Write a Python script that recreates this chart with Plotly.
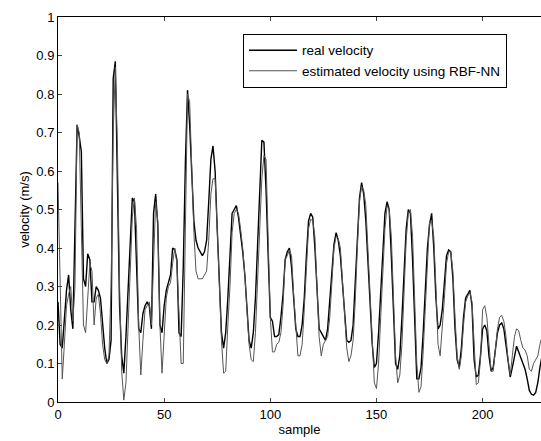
import plotly.graph_objects as go

# sample index
samples = list(range(0, 229))

real_velocity = [
    0.26, 0.15, 0.14, 0.22, 0.29, 0.33, 0.24, 0.19, 0.50, 0.72,
    0.69, 0.65, 0.32, 0.30, 0.385, 0.37, 0.26, 0.26, 0.30, 0.29,
    0.27, 0.20, 0.14, 0.10, 0.11, 0.16, 0.84, 0.885, 0.55, 0.25,
    0.12, 0.075, 0.17, 0.30, 0.42, 0.53, 0.52, 0.35, 0.19, 0.18,
    0.23, 0.25, 0.26, 0.25, 0.19, 0.49, 0.54, 0.46, 0.20, 0.18,
    0.25, 0.29, 0.31, 0.33, 0.40, 0.395, 0.37, 0.18, 0.17, 0.35,
    0.62, 0.81, 0.72, 0.58, 0.47, 0.42, 0.40, 0.39, 0.38, 0.39,
    0.42, 0.52, 0.63, 0.665, 0.60, 0.45, 0.30, 0.18, 0.14, 0.18,
    0.27, 0.38, 0.49, 0.50, 0.51, 0.48, 0.44, 0.39, 0.33, 0.25,
    0.16, 0.14, 0.18, 0.27, 0.42, 0.58, 0.68, 0.675, 0.55, 0.38,
    0.22, 0.21, 0.17, 0.17, 0.175, 0.22, 0.28, 0.37, 0.39, 0.40,
    0.35, 0.27, 0.19, 0.17, 0.17, 0.20, 0.27, 0.38, 0.47, 0.49,
    0.48, 0.40, 0.28, 0.19, 0.18, 0.17, 0.16, 0.19, 0.26, 0.34,
    0.41, 0.44, 0.42, 0.38, 0.30, 0.22, 0.16, 0.155, 0.16, 0.20,
    0.32, 0.45, 0.53, 0.57, 0.54, 0.47, 0.37, 0.25, 0.15, 0.09,
    0.10, 0.18, 0.28, 0.40, 0.49, 0.52, 0.50, 0.38, 0.22, 0.10,
    0.085, 0.12, 0.22, 0.35, 0.45, 0.50, 0.49, 0.37, 0.20, 0.06,
    0.06, 0.09, 0.18, 0.30, 0.40, 0.46, 0.49, 0.40, 0.27, 0.19,
    0.20, 0.24, 0.31, 0.38, 0.395, 0.39, 0.32, 0.19, 0.11, 0.09,
    0.14, 0.22, 0.27, 0.28, 0.29, 0.25, 0.11, 0.065, 0.07, 0.12,
    0.19, 0.20, 0.185, 0.12, 0.08, 0.09, 0.14, 0.18, 0.20, 0.205,
    0.19, 0.15, 0.10, 0.065, 0.09, 0.12, 0.145, 0.13, 0.115, 0.10,
    0.085, 0.06, 0.03, 0.02, 0.018, 0.025, 0.05, 0.09, 0.12,
]

estimated_velocity = [
    0.57, 0.30, 0.06, 0.15, 0.25, 0.28, 0.30, 0.21, 0.30, 0.72,
    0.70, 0.45, 0.20, 0.18, 0.26, 0.36, 0.34, 0.20, 0.27, 0.28,
    0.23, 0.15, 0.11, 0.10, 0.12, 0.30, 0.70, 0.87, 0.66, 0.30,
    0.08, 0.005, 0.05, 0.20, 0.38, 0.48, 0.53, 0.45, 0.20, 0.07,
    0.16, 0.24, 0.25, 0.26, 0.20, 0.37, 0.52, 0.47, 0.20, 0.075,
    0.16, 0.27, 0.30, 0.31, 0.36, 0.40, 0.36, 0.24, 0.10, 0.10,
    0.45, 0.80, 0.78, 0.62, 0.44, 0.34, 0.32, 0.32, 0.32, 0.33,
    0.34, 0.42, 0.54, 0.58, 0.58, 0.45, 0.30, 0.16, 0.075, 0.08,
    0.20, 0.30, 0.44, 0.49, 0.50, 0.49, 0.45, 0.40, 0.33, 0.25,
    0.15, 0.11, 0.105, 0.18, 0.30, 0.46, 0.58, 0.64, 0.63, 0.42,
    0.22, 0.13, 0.13, 0.15, 0.155, 0.18, 0.25, 0.37, 0.38, 0.395,
    0.38, 0.28, 0.19, 0.12, 0.12, 0.15, 0.24, 0.33, 0.45, 0.475,
    0.47, 0.43, 0.30, 0.17, 0.12, 0.15, 0.16, 0.17, 0.22, 0.30,
    0.40, 0.43, 0.425, 0.40, 0.32, 0.22, 0.14, 0.105, 0.12, 0.16,
    0.26, 0.40, 0.52, 0.56, 0.55, 0.51, 0.40, 0.28, 0.15, 0.05,
    0.035, 0.10, 0.22, 0.33, 0.45, 0.51, 0.50, 0.43, 0.26, 0.12,
    0.05, 0.07, 0.15, 0.30, 0.42, 0.49, 0.50, 0.43, 0.25, 0.10,
    0.025, 0.04, 0.13, 0.25, 0.37, 0.47, 0.47, 0.43, 0.30, 0.15,
    0.12, 0.19, 0.27, 0.36, 0.39, 0.39, 0.34, 0.22, 0.12, 0.085,
    0.12, 0.20, 0.26, 0.275, 0.285, 0.26, 0.13, 0.045, 0.05, 0.11,
    0.24, 0.25, 0.22, 0.14, 0.08, 0.08, 0.13, 0.19, 0.22, 0.225,
    0.21, 0.17, 0.11, 0.07, 0.12, 0.17, 0.19, 0.185, 0.16, 0.14,
    0.135, 0.12, 0.085, 0.08, 0.10, 0.11, 0.12, 0.15, 0.17,
]

x_ticks = [0, 50, 100, 150, 200]
y_ticks = [0, 0.1, 0.2, 0.3, 0.4, 0.5, 0.6, 0.7, 0.8, 0.9, 1]
y_tick_text = ["0", "0.1", "0.2", "0.3", "0.4", "0.5", "0.6", "0.7", "0.8", "0.9", "1"]

FONT = "Liberation Sans, Arial, sans-serif"

fig = go.Figure()
fig.add_trace(go.Scatter(
    x=samples, y=real_velocity, mode="lines", name="real velocity",
    line=dict(color="#000000", width=1.4),
))
fig.add_trace(go.Scatter(
    x=samples, y=estimated_velocity, mode="lines",
    name="estimated velocity using RBF-NN",
    line=dict(color="#555555", width=1),
))

fig.update_layout(
    width=541, height=441,
    margin=dict(l=58, r=0, t=17, b=39),
    paper_bgcolor="white", plot_bgcolor="white",
    font=dict(family=FONT, size=13, color="#000000"),
    showlegend=True,
    legend=dict(
        x=0.383, y=0.956, xanchor="left", yanchor="top",
        bordercolor="#000000", borderwidth=1, bgcolor="white",
        font=dict(family=FONT, size=13.5, color="#000000"),
        tracegroupgap=0, itemwidth=48,
    ),
    xaxis=dict(
        range=[0, 227.5], tickvals=x_ticks, ticks="inside", ticklen=4,
        showline=True, linecolor="#000000", linewidth=1, mirror="ticks",
        showgrid=False, zeroline=False,
        title=dict(text="sample", font=dict(family=FONT, size=13), standoff=2),
        tickfont=dict(family=FONT, size=13),
    ),
    yaxis=dict(
        range=[0, 1], tickvals=y_ticks, ticktext=y_tick_text,
        ticks="inside", ticklen=4,
        showline=True, linecolor="#000000", linewidth=1,
        showgrid=False, zeroline=False,
        title=dict(text="velocity (m/s)", font=dict(family=FONT, size=13), standoff=3),
        tickfont=dict(family=FONT, size=13),
    ),
)

fig.write_html("out.html")
